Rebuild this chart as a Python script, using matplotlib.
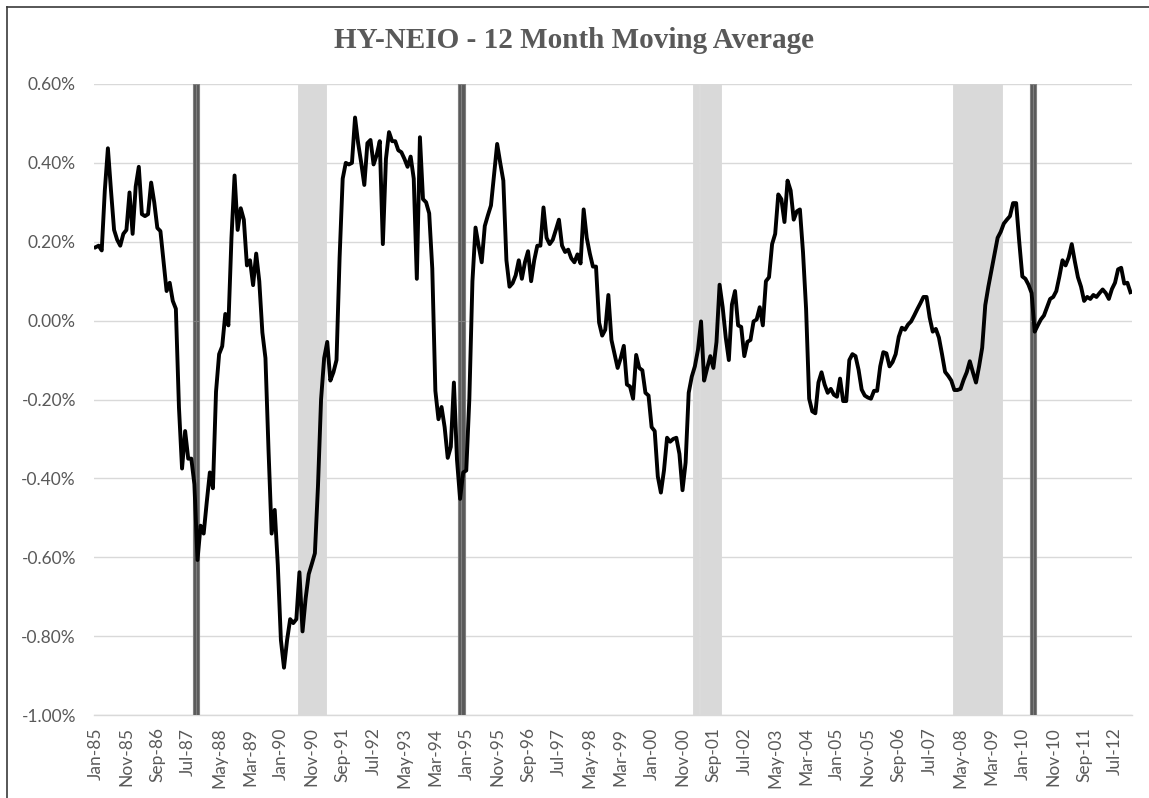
import numpy as np
import pandas as pd
import matplotlib
matplotlib.use('Agg')
import matplotlib.pyplot as plt
from matplotlib.lines import Line2D
from matplotlib.ticker import FuncFormatter

# categorias mensais Jan-85 .. Dec-12
months = pd.date_range('1985-01-01', periods=336, freq='MS').strftime('%b-%y').tolist()

# media movel de 12 meses (%)
ma12 = [
    0.186, 0.19, 0.178, 0.33, 0.437, 0.33, 0.23, 0.205, 0.19, 0.22,
    0.23, 0.325, 0.22, 0.34, 0.39, 0.27, 0.265, 0.27, 0.35, 0.30,
    0.235, 0.227, 0.15, 0.075, 0.096, 0.05, 0.03, -0.22, -0.375, -0.28,
    -0.35, -0.35, -0.415, -0.607, -0.52, -0.54, -0.46, -0.385, -0.425, -0.18,
    -0.085, -0.065, 0.017, -0.012, 0.21, 0.368, 0.23, 0.285, 0.256, 0.14,
    0.153, 0.09, 0.17, 0.10, -0.03, -0.095, -0.33, -0.54, -0.48, -0.62,
    -0.81, -0.88, -0.81, -0.757, -0.767, -0.757, -0.638, -0.788, -0.705, -0.643,
    -0.617, -0.59, -0.42, -0.20, -0.095, -0.054, -0.152, -0.131, -0.10, 0.16,
    0.36, 0.40, 0.396, 0.40, 0.515, 0.45, 0.40, 0.344, 0.45, 0.458,
    0.396, 0.42, 0.455, 0.194, 0.41, 0.478, 0.455, 0.455, 0.432, 0.427,
    0.41, 0.39, 0.416, 0.36, 0.106, 0.465, 0.308, 0.30, 0.272, 0.132,
    -0.178, -0.25, -0.219, -0.27, -0.348, -0.32, -0.157, -0.353, -0.452, -0.385,
    -0.38, -0.198, 0.10, 0.236, 0.19, 0.148, 0.24, 0.267, 0.292, 0.37,
    0.448, 0.40, 0.355, 0.153, 0.086, 0.095, 0.115, 0.153, 0.106, 0.148,
    0.176, 0.10, 0.153, 0.19, 0.19, 0.287, 0.21, 0.194, 0.205, 0.23,
    0.256, 0.19, 0.174, 0.18, 0.158, 0.148, 0.168, 0.145, 0.282, 0.21,
    0.17, 0.137, 0.137, -0.005, -0.038, -0.023, 0.065, -0.049, -0.085, -0.12,
    -0.095, -0.064, -0.162, -0.167, -0.198, -0.087, -0.12, -0.126, -0.183, -0.19,
    -0.27, -0.28, -0.395, -0.436, -0.38, -0.297, -0.307, -0.30, -0.297, -0.338,
    -0.43, -0.36, -0.183, -0.142, -0.116, -0.074, -0.002, -0.152, -0.12, -0.09,
    -0.12, -0.054, 0.091, 0.034, -0.043, -0.10, 0.041, 0.075, -0.012, -0.016,
    -0.09, -0.054, -0.049, -0.002, 0.003, 0.034, -0.012, 0.10, 0.11, 0.194,
    0.22, 0.32, 0.308, 0.25, 0.355, 0.33, 0.256, 0.277, 0.282, 0.174,
    0.03, -0.198, -0.23, -0.235, -0.157, -0.131, -0.162, -0.183, -0.173, -0.188,
    -0.193, -0.147, -0.204, -0.204, -0.10, -0.085, -0.09, -0.125, -0.175, -0.19,
    -0.195, -0.198, -0.178, -0.178, -0.116, -0.08, -0.083, -0.116, -0.105, -0.085,
    -0.041, -0.018, -0.023, -0.01, -0.002, 0.013, 0.029, 0.044, 0.06, 0.06,
    0.008, -0.028, -0.021, -0.043, -0.085, -0.13, -0.14, -0.152, -0.176, -0.176,
    -0.173, -0.15, -0.131, -0.103, -0.131, -0.157, -0.116, -0.069, 0.039, 0.086,
    0.127, 0.168, 0.21, 0.225, 0.246, 0.256, 0.265, 0.298, 0.298, 0.20,
    0.112, 0.106, 0.091, 0.07, -0.028, -0.012, 0.003, 0.013, 0.034, 0.055,
    0.06, 0.075, 0.112, 0.153, 0.14, 0.16, 0.194, 0.15, 0.11, 0.086,
    0.05, 0.06, 0.055, 0.065, 0.06, 0.07, 0.079, 0.07, 0.055, 0.08,
    0.096, 0.13, 0.134, 0.094, 0.096, 0.072,
]

# recessoes (faixas cinza claro) e choques (barras escuras)
recessions = [('Jul-90', 'Mar-91'), ('Mar-01', 'Nov-01'), ('Mar-08', 'Jun-09')]
shocks = [('Sep-87', 'Oct-87'), ('Nov-94', 'Dec-94'), ('Apr-10', 'May-10')]

ymin, ymax = -1.0, 0.6


def span_idx(spans):
    idx = []
    for a, b in spans:
        idx += list(range(months.index(a), months.index(b) + 1))
    return idx


def pct(v, p):
    if abs(v) < 1e-9:
        v = 0.0
    return f'{v:.2f}%'


x = np.arange(len(months))
rec_idx = span_idx(recessions)
shock_idx = span_idx(shocks)

W, H = 1149, 798
fig = plt.figure(figsize=(W / 100, H / 100), dpi=100)
ax = fig.add_axes([94 / W, 1 - 715 / H, (1132 - 94) / W, (715 - 84) / H])

ax.bar(rec_idx, ymax - ymin, bottom=ymin, width=1.0, color='#d9d9d9',
       edgecolor='#d9d9d9', linewidth=0.6, zorder=2)
ax.bar(shock_idx, ymax, width=1.1, color='#595959', edgecolor='#7f7f7f',
       linewidth=0.8, zorder=3)
ax.bar(shock_idx, ymin, width=1.1, color='#595959', edgecolor='#7f7f7f',
       linewidth=0.8, zorder=3)

ax.plot(x, ma12, color='black', lw=2.8, zorder=4, solid_joinstyle='round')

ax.set_xlim(-0.5, len(months) - 0.5)
ax.set_ylim(ymin, ymax)
ax.set_yticks(np.round(np.arange(ymin, ymax + 0.01, 0.2), 2))
ax.yaxis.set_major_formatter(FuncFormatter(pct))
ax.yaxis.grid(True, color='#d9d9d9', lw=1)
ax.set_axisbelow(True)

ax.set_xticks(x[::10])
ax.set_xticklabels(months[::10], rotation=90)

for s in ['left', 'right', 'top']:
    ax.spines[s].set_visible(False)
ax.spines['bottom'].set_color('#d9d9d9')
ax.spines['bottom'].set_linewidth(1)

ax.tick_params(axis='y', length=0, pad=13, labelsize=12.5, labelcolor='#595959')
ax.tick_params(axis='x', length=0, pad=9, labelsize=12.5, labelcolor='#595959')
for lab in ax.get_xticklabels() + ax.get_yticklabels():
    lab.set_fontfamily('Lato')

fig.text(0.5, 1 - 41 / H, 'HY-NEIO - 12 Month Moving Average', ha='center',
         va='center', fontsize=21, fontweight='bold', family='Liberation Serif',
         color='#595959')

# moldura (so esquerda e topo aparecem no recorte)
fig.add_artist(Line2D([7 / W, 7 / W], [0, 1 - 7 / H], transform=fig.transFigure,
                      color='#3a3a3a', lw=1.2))
fig.add_artist(Line2D([7 / W, 1], [1 - 7 / H, 1 - 7 / H], transform=fig.transFigure,
                      color='#3a3a3a', lw=1.2))

fig.savefig('out.png', dpi=100)
